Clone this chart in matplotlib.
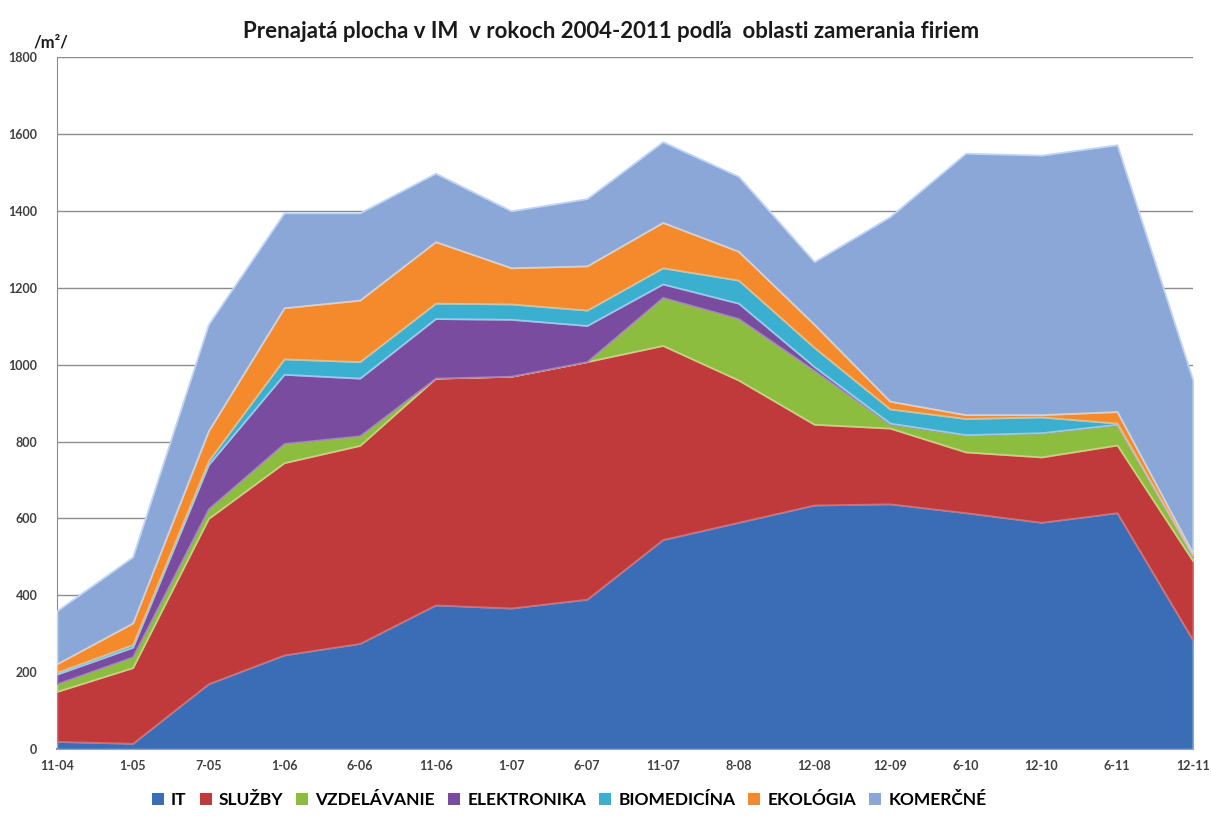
import matplotlib
matplotlib.use('Agg')
import matplotlib.pyplot as plt
import numpy as np
from matplotlib.patches import Patch

# obdobia (os x)
obdobia = ["11-04", "1-05", "7-05", "1-06", "6-06", "11-06", "1-07", "6-07",
           "11-07", "8-08", "12-08", "12-09", "6-10", "12-10", "6-11", "12-11"]

# prenajata plocha po oblastiach /m2/
it = [20, 15, 170, 245, 275, 375, 367, 390, 545, 590, 635, 638, 615, 590, 615, 284]
sluzby = [130, 197, 430, 500, 515, 590, 603, 618, 505, 370, 210, 197, 158, 170, 176, 206]
vzdelavanie = [20, 28, 25, 50, 25, 0, 0, 0, 125, 160, 140, 10, 44, 62, 52, 10]
elektronika = [25, 25, 115, 180, 150, 155, 148, 94, 35, 40, 10, 3, 1, 1, 2, 3]
biomedicina = [5, 7, 10, 40, 43, 40, 40, 40, 42, 60, 50, 37, 42, 41, 3, 2]
ekologia = [22, 56, 78, 133, 160, 160, 94, 115, 118, 75, 60, 20, 10, 6, 30, 5]
komercne = [138, 172, 277, 247, 227, 178, 148, 175, 210, 195, 163, 480, 680, 675, 694, 450]

nazvy = ["IT", "SLUŽBY", "VZDELÁVANIE", "ELEKTRONIKA", "BIOMEDICÍNA", "EKOLÓGIA", "KOMERČNÉ"]
farby = ["#3a6db5", "#c0393b", "#8dbd3e", "#7a4c9f", "#3aafd0", "#f48a2c", "#8aa7d8"]
okraje = ["#7fa6dc", "#e06a6a", "#b5dc78", "#a882c8", "#86d4ea", "#f8b576", "#c3d4ee"]

plt.rcParams['font.family'] = ['Lato', 'DejaVu Sans']

fig = plt.figure(figsize=(12.11, 8.16), dpi=100)
ax = fig.add_axes([0.047, 0.082, 0.938, 0.848])

x = np.arange(len(obdobia))
data = [it, sluzby, vzdelavanie, elektronika, biomedicina, ekologia, komercne]
polys = ax.stackplot(x, *data, colors=farby, zorder=3)
for p, e in zip(polys, okraje):
    p.set_edgecolor(e)
    p.set_linewidth(1.3)

ax.set_xlim(0, len(obdobia) - 1)
ax.set_ylim(0, 1800)
ax.set_yticks(range(0, 1801, 200))
ax.set_xticks(x)
ax.set_xticklabels(obdobia)
ax.yaxis.grid(True, color="#8c8c8c", linewidth=1.0, zorder=0)
ax.set_axisbelow(True)

for s in ["top", "right"]:
    ax.spines[s].set_visible(False)
ax.spines["left"].set_color("#8c8c8c")
ax.spines["bottom"].set_color("#8c8c8c")
ax.spines["bottom"].set_linewidth(1.5)
ax.tick_params(axis="both", length=0, labelsize=9, labelcolor="#404040", pad=8)
ax.tick_params(axis="y", pad=14)
for lbl in ax.get_xticklabels() + ax.get_yticklabels():
    lbl.set_fontweight("bold")

fig.text(0.505, 0.962, "Prenajatá plocha v IM  v rokoch 2004-2011 podľa  oblasti zamerania firiem",
         ha="center", va="center", fontsize=16, fontweight="bold", color="#1a1a1a")
fig.text(0.028, 0.948, "/m²/", ha="left", va="center", fontsize=12,
         fontweight="bold", color="#1a1a1a")

handles = [Patch(facecolor=f, edgecolor="none") for f in farby]
fig.legend(handles, nazvy, loc="center", bbox_to_anchor=(0.47, 0.02), ncol=7,
           frameon=False, handlelength=0.7, handleheight=0.7, handletextpad=0.4,
           columnspacing=0.75, prop={"weight": "bold", "size": 12.5})

fig.savefig("out.png", dpi=100)
